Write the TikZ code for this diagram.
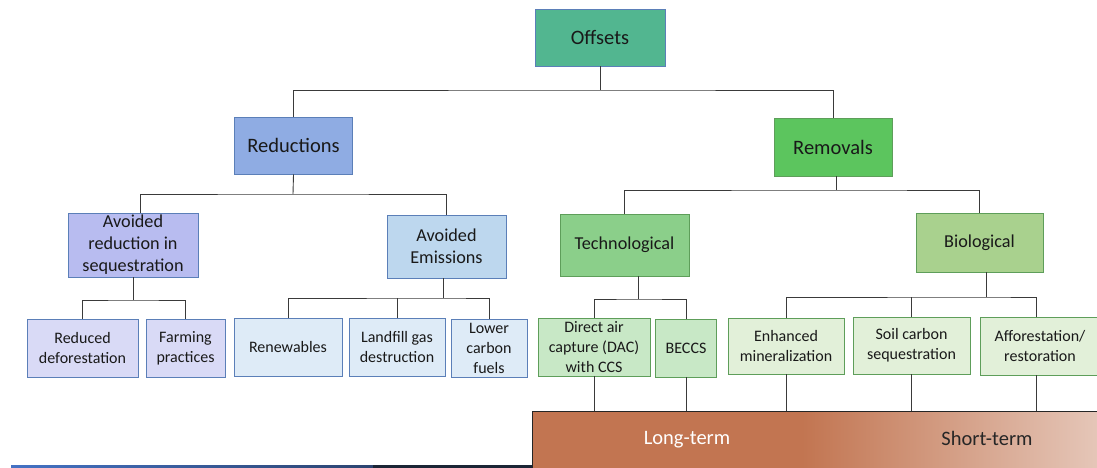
\documentclass[tikz,border=0pt]{standalone}
\usepackage{fontspec}
\setmainfont{Carlito}
\definecolor{lnc}{HTML}{3A3A3A}
\definecolor{offc}{HTML}{52B690}
\definecolor{redc}{HTML}{8FACE3}
\definecolor{remc}{HTML}{5CC55E}
\definecolor{avrc}{HTML}{B8BCF0}
\definecolor{avec}{HTML}{BDD7EE}
\definecolor{lavc}{HTML}{D9DAF6}
\definecolor{bluc}{HTML}{DEEBF7}
\definecolor{tecc}{HTML}{8BCF8A}
\definecolor{bioc}{HTML}{A9D18E}
\definecolor{pgrc}{HTML}{C8E8C6}
\definecolor{lgrc}{HTML}{E2F0D9}
\definecolor{bdb}{HTML}{5B7FB8}
\definecolor{bdg}{HTML}{5E9E5A}
\definecolor{barc}{HTML}{C27551}
\definecolor{barl}{HTML}{E5C6B8}
\definecolor{stripb}{HTML}{4472C4}
\definecolor{stripd}{HTML}{2C4470}
\definecolor{stripk}{HTML}{1B2535}
\tikzset{
  box/.style={draw, line width=0.9pt, rectangle, align=center, inner sep=0pt, text=black!90},
  lvA/.style={box, font=\fontsize{20.5}{24}\selectfont},
  lvB/.style={box, font=\fontsize{18.2}{22}\selectfont},
  lvC/.style={box, font=\fontsize{16}{20}\selectfont},
  conn/.style={draw=lnc, line width=0.9pt},
}
\begin{document}
\begin{tikzpicture}[x=1pt,y=-1pt]
\useasboundingbox (0,0) rectangle (1097,468);
% bottom strip
\shade[left color=stripb, right color=stripd] (11,465) rectangle (373,468);
\fill[stripk] (373,465) rectangle (533,468);
% bar
\fill[barc] (533,411) rectangle (802,468);
\shade[left color=barc, right color=barl] (802,411) rectangle (1097,468);
\draw[line width=1pt, black!85] (532.5,468) -- (532.5,411) -- (1097,411);
\coordinate (bartop) at (0,411);
\node[font=\fontsize{20.5}{24}\selectfont, text=white] (lt) at (687,440) {Long-term};
\node[font=\fontsize{20.5}{24}\selectfont, text=black!85] (st) at (987,438) {Short-term};
% level A
\node[lvA, fill=offc, draw=bdb, minimum width=130, minimum height=57] (off) at (600,37.5) {Offsets};
\node[lvA, fill=redc, draw=bdb, minimum width=118, minimum height=57] (red) at (293.5,145.5) {Reductions};
\node[lvA, fill=remc, draw=bdg, minimum width=118, minimum height=58] (rem) at (833,147) {Removals};
% level B
\node[lvB, fill=avrc, draw=bdb, minimum width=130, minimum height=64] (avr) at (133,245) {Avoided\\reduction in\\sequestration};
\node[lvB, fill=avec, draw=bdb, minimum width=119, minimum height=63] (ave) at (446.5,246.5) {Avoided\\Emissions};
\node[lvB, fill=tecc, draw=bdg, minimum width=129, minimum height=62] (tec) at (624.5,245) {Technological};
\node[lvB, fill=bioc, draw=bdg, minimum width=127, minimum height=59] (bio) at (979.5,242.5) {Biological};
% level C
\node[lvC, fill=lavc, draw=bdb, minimum width=111, minimum height=58] (rdf) at (82.5,348) {Reduced\\deforestation};
\node[lvC, fill=lavc, draw=bdb, minimum width=79, minimum height=58] (frm) at (185.5,348) {Farming\\practices};
\node[lvC, fill=bluc, draw=bdb, minimum width=108, minimum height=58] (ren) at (288,347) {Renewables};
\node[lvC, fill=bluc, draw=bdb, minimum width=96, minimum height=58] (lfg) at (397,347) {Landfill gas\\destruction};
\node[lvC, fill=bluc, draw=bdb, minimum width=76, minimum height=58] (lcf) at (489,348) {Lower\\carbon\\fuels};
\node[lvC, fill=pgrc, draw=bdg, minimum width=112, minimum height=58] (dac) at (594,347) {Direct air\\capture (DAC)\\with CCS};
\node[lvC, fill=pgrc, draw=bdg, minimum width=61, minimum height=58] (bec) at (686,348) {BECCS};
\node[lvC, fill=lgrc, draw=bdg, minimum width=116, minimum height=56] (enh) at (786,346) {Enhanced\\mineralization};
\node[lvC, fill=lgrc, draw=bdg, minimum width=117, minimum height=57] (soil) at (911.5,345.5) {Soil carbon\\sequestration};
\node[lvC, fill=lgrc, draw=bdg, minimum width=120, minimum height=58] (aff) at (1040,346) {Afforestation/\\restoration};
% junctions
\coordinate (j0) at (600,90);
\coordinate (j1) at (293,194);
\coordinate (j2) at (836,190);
\coordinate (j3) at (133,300);
\coordinate (j4) at (443,298);
\coordinate (j5) at (638,299);
\coordinate (j6) at (986,297);
% connectors
\draw[conn] (off.south) -- (j0);
\draw[conn] (red.north) |- (j0) -| (rem.north);
\draw[conn] (red.south) -- (j1);
\draw[conn] (avr.north -| 140,0) |- (j1) -| (ave.north);
\draw[conn] (rem.south -| j2) -- (j2);
\draw[conn] (tec.north) |- (j2) -| (bio.north);
\draw[conn] (avr.south) -- (j3);
\draw[conn] (rdf.north) |- (j3) -| (frm.north);
\draw[conn] (ave.south -| j4) -- (j4);
\draw[conn] (ren.north) |- (j4) -| (lcf.north);
\draw[conn] (lfg.north) -- (lfg.north |- j4);
\draw[conn] (tec.south -| j5) -- (j5);
\draw[conn] (dac.north) |- (j5) -| (bec.north);
\draw[conn] (bio.south -| j6) -- (j6);
\draw[conn] (enh.north) |- (j6) -| (aff.north -| 1036,0);
\draw[conn] (soil.north) -- (soil.north |- j6);
% to bar
\draw[conn] (dac.south) -- (dac.south |- bartop);
\draw[conn] (bec.south) -- (bec.south |- bartop);
\draw[conn] (enh.south) -- (enh.south |- bartop);
\draw[conn] (soil.south) -- (soil.south |- bartop);
\draw[conn] (aff.south -| 1036,0) -- (1036,411);
\end{tikzpicture}
\end{document}
